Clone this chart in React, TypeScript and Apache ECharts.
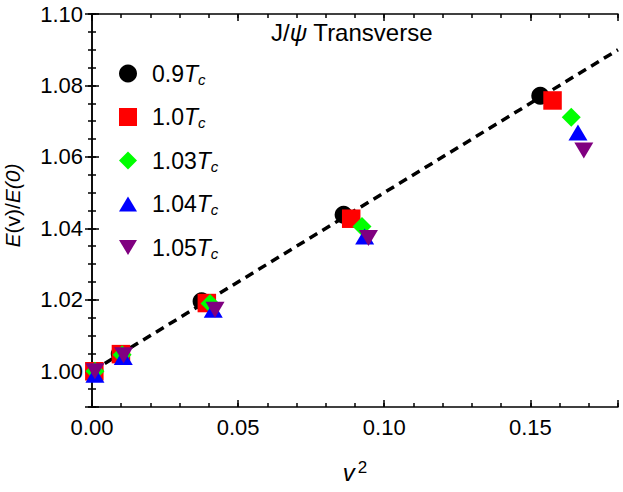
import React, { useEffect, useRef } from "react";
import * as echarts from "echarts";

const seriesNames = ["0.9", "1.0", "1.03", "1.04", "1.05"];
const seriesColors = ["#000000", "#ff0000", "#00ff00", "#0000ff", "#800080"];

const data09: number[][] = [
  [0.0008, 1.0], [0.0095, 1.0048], [0.0375, 1.0196], [0.0861, 1.0438], [0.1534, 1.0771],
];
const data10: number[][] = [
  [0.0008, 1.0], [0.0099, 1.0048], [0.0393, 1.0191], [0.0887, 1.0427], [0.1576, 1.0758],
];
const data103: number[][] = [
  [0.001, 1.0], [0.0103, 1.0046], [0.0404, 1.019], [0.0924, 1.0405], [0.164, 1.0711],
];
const data104: number[][] = [
  [0.001, 0.999], [0.0107, 1.004], [0.0415, 1.0172], [0.0933, 1.0377], [0.1663, 1.0668],
];
const data105: number[][] = [
  [0.001, 1.0], [0.0108, 1.0045], [0.0421, 1.0172], [0.0946, 1.0373], [0.1683, 1.0618],
];
const fitLine: number[][] = [
  [0.0, 1.0], [0.18, 1.09],
];

const xMin = 0;
const xMax = 0.18;
const yMin = 0.99;
const yMax = 1.1;

const FONT = "'Liberation Sans', Arial, sans-serif";
const UP_TRI = "path://M9.5,0L19,16L0,16Z";
const DOWN_TRI = "path://M0,0L19,0L9.5,16Z";

export default function App() {
  const ref = useRef<HTMLDivElement>(null);
  useEffect(() => {
    if (!ref.current) return;
    const chart = echarts.init(ref.current, null, { renderer: "svg" });
    const allData = [data09, data10, data103, data104, data105];
    const symbols = ["circle", "rect", "diamond", UP_TRI, DOWN_TRI];
    const sizes: any[] = [18, 18.5, 19, [19, 16], [19, 16]];

    const lineCommon = { lineStyle: { color: "#000", width: 1.5 } };
    const mkX = (pos: string, major: boolean, labels: boolean): any => ({
      type: "value",
      position: pos,
      min: xMin,
      max: xMax,
      interval: major ? 0.05 : 0.01,
      axisLine: { show: major, ...lineCommon },
      axisTick: { show: true, inside: true, length: major ? 7 : 4, lineStyle: { color: "#000", width: 1.5 } },
      axisLabel: labels
        ? {
            show: true,
            color: "#000",
            fontSize: 22,
            fontFamily: FONT,
            margin: 9,
            formatter: (v: number) => (Math.abs(v - 0.18) < 1e-9 ? "" : v.toFixed(2)),
          }
        : { show: false },
      splitLine: { show: false },
      ...(labels
        ? {
            name: "{v|v}{s|2}",
            nameLocation: "middle",
            nameGap: 52,
            nameTextStyle: {
              rich: {
                v: { fontSize: 24, fontStyle: "italic", fontFamily: FONT, color: "#000", lineHeight: 26 },
                s: { fontSize: 17, fontFamily: FONT, color: "#000", lineHeight: 12, verticalAlign: "top", padding: [0, 0, 0, 3] },
              },
            },
          }
        : {}),
    });
    const mkY = (pos: string, major: boolean, labels: boolean): any => ({
      type: "value",
      position: pos,
      min: yMin,
      max: yMax,
      ...(major ? { splitNumber: 5 } : { interval: 0.005 }),
      axisLine: { show: major, ...lineCommon },
      axisTick: { show: true, inside: true, length: major ? 7 : 4, lineStyle: { color: "#000", width: 1.5 } },
      axisLabel: labels
        ? {
            show: true,
            color: "#000",
            fontSize: 22,
            fontFamily: FONT,
            margin: 9,
            formatter: (v: number) => (Math.abs(v - 0.99) < 1e-9 ? "" : v.toFixed(2)),
          }
        : { show: false },
      splitLine: { show: false },
      ...(labels
        ? {
            name: "{i|E}{n|(v)/}{i|E(0)}",
            nameLocation: "middle",
            nameGap: 69,
            nameRotate: 90,
            nameTextStyle: {
              padding: [0, 0, 0, 10],
              rich: {
                i: { fontSize: 21, fontStyle: "italic", fontFamily: FONT, color: "#000" },
                n: { fontSize: 21, fontFamily: FONT, color: "#000" },
              },
            },
          }
        : {}),
    });

    const richLegend = {
      g: { width: 10, fontSize: 23, fontFamily: FONT },
      n: { fontSize: 23, fontFamily: FONT, color: "#000", lineHeight: 26 },
      t: { fontSize: 23, fontFamily: FONT, fontStyle: "italic", color: "#000", lineHeight: 26 },
      s: { fontSize: 15, fontFamily: FONT, fontStyle: "italic", color: "#000", lineHeight: 8, verticalAlign: "bottom" },
    };

    const option: any = {
      animation: false,
      backgroundColor: "#fff",
      title: {
        text: "{n|J/}{i|ψ}{n| Transverse}",
        left: 271,
        top: 20,
        padding: 0,
        textStyle: {
          fontWeight: "normal",
          rich: {
            n: { fontSize: 24, fontFamily: FONT, fontWeight: "normal", color: "#000" },
            i: { fontSize: 24, fontFamily: FONT, fontWeight: "normal", fontStyle: "italic", color: "#000" },
          },
        },
      },
      grid: { left: 92, right: 5, top: 14, bottom: 85, containLabel: false, outerBoundsMode: "none" },
      legend: {
        orient: "vertical",
        left: 119,
        top: 62,
        padding: 0,
        itemGap: 19,
        itemWidth: 18,
        itemHeight: 18,
        data: seriesNames.map((n, i) => ({ name: n, icon: symbols[i] })),
        formatter: (name: string) => `{g| }{n|${name}}{t|T}{s|c}`,
        textStyle: { rich: richLegend },
        selectedMode: false,
      },
      xAxis: [mkX("bottom", true, true), mkX("bottom", false, false), mkX("top", true, false), mkX("top", false, false)],
      yAxis: [mkY("left", true, true), mkY("left", false, false), mkY("right", true, false), mkY("right", false, false)],
      series: [
        {
          name: "fit",
          type: "line",
          xAxisIndex: 0,
          yAxisIndex: 0,
          data: fitLine,
          showSymbol: false,
          symbol: "none",
          lineStyle: { color: "#000", width: 3.5, type: [9, 6] },
          z: 1,
        },
        ...seriesNames.map((n, i) => ({
          name: n,
          type: "scatter",
          xAxisIndex: 0,
          yAxisIndex: 0,
          data: allData[i],
          symbol: symbols[i],
          symbolSize: sizes[i],
          itemStyle: { color: seriesColors[i], opacity: 1 },
          z: 2 + i,
        })),
      ],
    };
    chart.setOption(option);
    return () => chart.dispose();
  }, []);
  return (
    <div
      ref={ref}
      style={{ position: "fixed", left: 0, top: 0, width: 623, height: 492 }}
    />
  );
}
